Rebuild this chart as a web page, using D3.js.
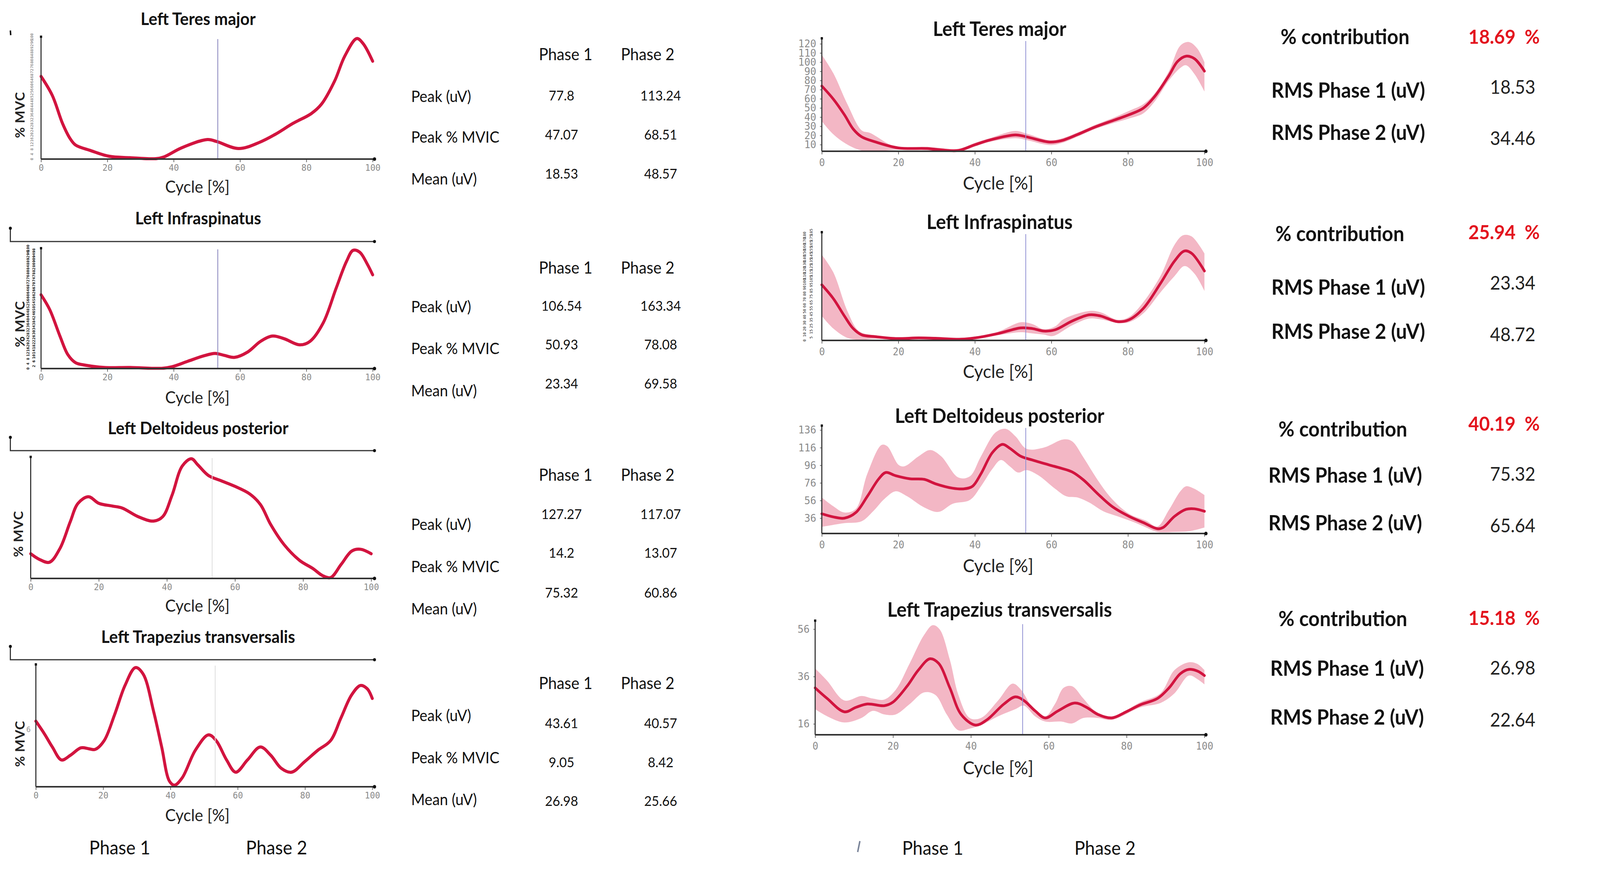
<!DOCTYPE html>
<html><head><meta charset="utf-8">
<script src="https://cdn.jsdelivr.net/npm/d3@7/dist/d3.min.js"></script>
<style>
html,body{margin:0;padding:0;background:#fff;overflow:hidden;}
svg{display:block;width:100vw;height:100vh;font-family:Lato,"Open Sans",sans-serif;}
</style></head><body>
<svg id="c" viewBox="0 0 4328 2226" preserveAspectRatio="none"></svg>
<script>
// ---------------- DATA ----------------
const muscles = ["Left Teres major","Left Infraspinatus","Left Deltoideus posterior","Left Trapezius transversalis"];
const phaseNames = ["Phase 1","Phase 2"];
const rowLabels = ["Peak (uV)","Peak % MVIC","Mean (uV)"];
const peakUV   = [["77.8","113.24"],["106.54","163.34"],["127.27","117.07"],["43.61","40.57"]];
const peakMVIC = [["47.07","68.51"],["50.93","78.08"],["14.2","13.07"],["9.05","8.42"]];
const meanUV   = [["18.53","48.57"],["23.34","69.58"],["75.32","60.86"],["26.98","25.66"]];
const contribution = ["18.69","25.94","40.19","15.18"];
const rmsPhase1 = ["18.53","23.34","75.32","26.98"];
const rmsPhase2 = ["34.46","48.72","65.64","22.64"];
const phaseBoundary = 53.3;
const xTicks = [0,20,40,60,80,100];
const r1YTicks = [10,20,30,40,50,60,70,80,90,100,110,120];
const r2YTicks = d3.range(0,190,5);
const r3YTicks = [36,56,76,96,116,136];
const r4YTicks = [16,36,56];
const l1YTicks = d3.range(0,101,4);
const l2YTicks = d3.range(0,101,2);

// left column: mean normalised % MVC curves  [cycle %, value]
const l1Mean = [[0,67.6],[3.4,52],[6.5,29],[8.8,16.6],[10.4,11.5],[15,6.9],[20.5,2.3],[26.8,1.1],[34.6,0.3],[37,1.7],[42.4,9.2],[50.2,16],[53,14.3],[59.6,8.6],[65.9,13.7],[70.5,20],[76,29.2],[81.5,37.2],[84.6,45],[88.5,63.6],[91.6,84.2],[95.2,98.5],[97.1,94.5],[100,80]];
const l2Mean = [[0,61.3],[2.6,49.1],[5.7,27],[8.1,11.5],[10.4,4.9],[13.6,2.7],[19.1,0.9],[26.9,0.9],[36.4,0.2],[39.5,1.5],[44.2,6],[48.9,10.4],[52.5,12.6],[55.2,11],[58.4,9.3],[62.3,13.7],[66.2,22.6],[69.8,27],[73.3,24.8],[78,19.7],[81.1,22.6],[85.1,38],[89,66.8],[92.1,88.9],[94.1,98.2],[96.1,96.7],[98.4,86.7],[100,77.9]];
const l3Mean = [[0,20.3],[2.4,15.9],[5.5,13.3],[8.6,24.7],[11.6,46.5],[13.9,61.8],[17,67.2],[20,61.8],[23.9,59.6],[26.9,57.9],[31.5,50.9],[36.1,47.2],[38.8,50.9],[41.5,68.3],[44.5,92.4],[47.2,98.5],[49.1,93.4],[52.2,84.7],[56,80.3],[59.8,76],[64.4,69.4],[67.5,60.7],[70.5,44.3],[74.4,27.9],[79,14.8],[82.8,8.3],[85.8,2.2],[88.1,0.7],[91.2,11.6],[94.3,22.5],[96.9,24],[100,20.3]];
const l4Mean = [[0,53.6],[2.6,43],[4.9,32.5],[7.6,21.9],[10.3,25.8],[13.4,31.8],[15.7,31.1],[17.6,30.5],[20.3,37.7],[23.4,58.9],[26.5,82.8],[29.6,97.4],[31.9,92.1],[35,61.6],[37.4,32.5],[39.7,4.6],[41.2,1.3],[43.5,7.3],[47.4,29.8],[51.3,42.4],[53.6,37.7],[56.7,21.9],[59.4,11.9],[62.9,21.9],[66.7,32.5],[69.8,25.8],[72.9,15.2],[76,11.9],[79.9,20.5],[83.8,29.8],[87.6,37.7],[90.7,56.3],[93.8,74.8],[96.5,82.8],[98.5,80.1],[100,72.2]];

// right column: mean and SD band (uV)
const r1Mean = [[0,73.9],[3,59.7],[5.9,42.6],[8.2,27],[10.4,18.5],[14.1,12.8],[20,6.4],[27.5,5.7],[31,4.3],[35.7,3.6],[40.1,10],[43.9,15],[50.6,20.6],[53.5,18.5],[59.5,12.8],[62.5,14.2],[67,21.3],[71.4,29.2],[76.6,37],[80.3,42.6],[84,49.7],[87,62.5],[90.7,85.2],[93,100.8],[95.2,106.5],[97.4,103.7],[100,90.2]];
const r1Upper = [[0,108],[3,88],[6.7,54],[10.4,25.6],[12.6,22.8],[17.8,10],[20,7.5],[27.5,7.5],[31,6.3],[35.7,5.4],[40.1,12],[43.9,17],[50.6,24.9],[53.5,22],[59.5,14.8],[62.5,16.5],[67,23.5],[71.4,31.5],[76.6,40],[80.3,46.8],[84,54],[87,66],[90.7,90],[93.7,118],[95.9,122],[98.1,115],[100,100]];
const r1Lower = [[0,35.5],[3,21.3],[6.7,10],[10.4,3.6],[14.1,3],[20,4.5],[27.5,4],[31,2.8],[35.7,2],[40.1,8],[43.9,13],[50.6,17],[53.5,15],[59.5,9.5],[62.5,11.5],[67,19],[71.4,27],[76.6,34],[80.3,38.5],[84,44],[87,57],[90.7,80],[93.7,93.7],[95.2,96.6],[97.4,87],[100,68]];
const r2Mean = [[0,95],[3,71.6],[5.9,41.7],[8.2,20.3],[10.4,9.6],[14.1,6.4],[19.3,3.2],[25.3,4.3],[29.7,3.6],[36.4,2.1],[40.1,4.3],[46.1,11.8],[52,21.4],[55,20.3],[58,16],[61,18.2],[65.4,33.1],[69.9,43.8],[72.9,41.7],[77.3,32],[80.3,35.3],[84,54.5],[88.5,97.3],[92.2,135.8],[94.8,152.9],[96.7,148.6],[100,118.7]];
const r2Upper = [[0,146.5],[3,116.5],[6.7,50],[9.7,16],[14.1,8.5],[19.3,5.5],[25.3,6.5],[29.7,6],[36.4,4],[40.1,6.5],[46.1,15],[52,31],[55,28],[58,19],[61,24],[63.2,36.4],[69.9,50.3],[72.9,48],[77.3,35.3],[80.3,40],[84,65.2],[88.5,110],[92.2,163.6],[94.4,179.6],[96.7,177.5],[100,148.6]];
const r2Lower = [[0,41.7],[3,20.3],[6.7,4.3],[10.4,1],[14.1,3],[19.3,1.5],[25.3,2.5],[29.7,2],[36.4,0.5],[40.1,2.5],[46.1,9],[52,14],[55,12],[58,10],[60.4,7.5],[65.4,25.7],[69.9,37.4],[72.9,36],[77.3,30],[80.3,31],[84,46],[88.5,82],[92.2,110],[94.8,127],[97.4,114],[100,84.5]];
const r3Mean = [[0,41],[3,37.4],[5.9,36],[8.9,42.4],[11.9,60.8],[14.9,80.7],[16.7,87.8],[19.3,84.2],[23,80.7],[26.8,80],[29.7,75],[34.2,70],[37.2,69.3],[39.4,72.2],[41.6,86.4],[44.6,110.5],[47.2,119.7],[49.1,115.4],[52,106.2],[55,102],[59.5,96.3],[62.5,92.7],[65.4,88.5],[68.4,79.3],[72.1,63.7],[75.8,49.5],[80.3,38.1],[84,31],[87.7,24],[89.2,25.4],[92.2,38.1],[95.2,46],[97.4,46.6],[100,43.8]];
const r3Upper = [[0,59.4],[3,49.5],[5.9,42.4],[8.9,46.6],[11.9,86.4],[15.6,119],[17.1,117.6],[20.1,96.3],[21.6,94.9],[25.3,106.2],[28.3,113.3],[31.2,106.2],[35.7,82.1],[38.7,83.5],[41.6,106.2],[45.4,133.2],[48,137.4],[50.6,128.9],[53.5,114.7],[58,116.1],[63.2,125.4],[65.4,123.3],[68.4,104.8],[72.1,79.3],[75.8,58],[80.3,41],[84.8,33],[87.7,26.5],[90.7,45.2],[93.7,66.5],[95.2,72.2],[97.4,69.3],[100,62.2]];
const r3Lower = [[0,26.1],[5.9,30.3],[10.4,32.5],[13.4,43.8],[16.4,58],[19.3,66.5],[22.3,60.8],[26.8,48.1],[30.5,43.1],[34.2,52.3],[38.7,56.6],[41.6,72.2],[44.6,92],[46.8,102],[49.1,94.9],[51.3,87.8],[53.5,90.6],[56.5,84.9],[61,69.3],[63.9,60.8],[66.9,59.4],[69.9,53.7],[73.6,43.8],[77.3,38.1],[81.8,31],[84.8,25.4],[87.7,20.4],[92.2,20.4],[95.9,21.1],[100,25.4]];
const r4Mean = [[0,31.2],[3.1,26.7],[7.5,21.1],[10.5,23],[13.4,24.4],[17.8,23.7],[20,25.2],[23.6,31.9],[26.5,38.7],[29.5,43.5],[31.7,41.6],[34.6,31.2],[37.5,20],[41.2,15.5],[44.1,17.7],[48.5,24.4],[51.4,27.4],[53.6,25.9],[56.5,21.5],[59.1,18.5],[62.4,21.5],[66.7,24.8],[69.7,23],[72.6,20],[76.2,18.5],[79.9,21.1],[83.6,24.1],[87.9,26.7],[90.9,31.2],[93.8,37.2],[96,39],[98.2,38.3],[100,36.4]];
const r4Upper = [[0,39.4],[3.1,34.2],[7.5,25.9],[11.9,27.8],[14.8,26.7],[17.8,26.3],[20.7,30.4],[24.3,41.6],[28,53.6],[30.2,57.7],[32,55.9],[34.6,43.1],[36.8,28.2],[39.7,18.5],[42.6,18.5],[47,25.9],[50.7,33],[52.9,30.4],[55.8,23],[59.1,19.2],[61.6,24.4],[63.8,31.2],[66,31.9],[68.9,26.7],[71.9,21.5],[76.2,19.2],[83.6,25.2],[88.7,28.9],[92.3,38.7],[96,42],[98.2,41.3],[100,38.7]];
const r4Lower = [[0,22.2],[3.1,19.2],[7.5,16.6],[11.9,18.5],[14.8,21.5],[17.8,20],[20.7,20],[24.3,24.4],[28,29.3],[30.9,28.2],[33.8,20],[36.8,13.3],[39.7,14],[42.6,15.5],[47,19.2],[51.4,22.2],[53.6,23.7],[56.5,19.2],[59.1,17],[63.1,17],[66,16.2],[68.9,18.5],[72.6,18.5],[76.2,17.7],[83.6,23],[88.7,24.8],[92.3,28.9],[96,36.4],[98.2,34.9],[100,32.7]];

// ---------------- DRAW ----------------
const svg = d3.select("#c");
const defs = svg.append("defs");
const RED = "#d2143f", BAND = "#f3b7c5", AX = "#333";

function makeLine(x, y) {
  return d3.line().x(d => x(d[0])).y(d => y(d[1])).curve(d3.curveCatmullRom.alpha(0.5));
}

function drawChart(c) {
  const x = d3.scaleLinear().domain([0, 100]).range([c.x0, c.x1]);
  const y = d3.scaleLinear().domain(c.yDomain).range([c.yBottom, c.yTop]);
  const g = svg.append("g");
  const line = makeLine(x, y);
  defs.append("clipPath").attr("id", "clip" + c.id).append("rect")
    .attr("x", c.x0 - 4).attr("y", c.yTop).attr("width", c.axisEnd - c.x0 + 8).attr("height", c.yBottom - c.yTop + 3);
  const pg = g.append("g").attr("clip-path", `url(#clip${c.id})`);
  if (c.upper) {
    const up = line(c.upper);
    const lo = line(c.lower.slice().reverse());
    pg.append("path").attr("d", up + "L" + lo.slice(1) + "Z").attr("fill", BAND).attr("stroke", "none");
  }
  // phase boundary
  g.append("line").attr("x1", x(phaseBoundary)).attr("x2", x(phaseBoundary))
    .attr("y1", c.vTop).attr("y2", c.yBottom).attr("stroke", c.vColor).attr("stroke-width", 2);
  pg.append("path").attr("d", line(c.mean)).attr("fill", "none").attr("stroke", RED)
    .attr("stroke-width", c.lw).attr("stroke-linecap", "round").attr("stroke-linejoin", "round");

  // x axis
  const xa = g.append("g").attr("transform", `translate(0,${c.yBottom})`)
    .call(d3.axisBottom(x).tickValues(xTicks).tickSize(8).tickSizeOuter(0).tickPadding(c.xPad));
  xa.select(".domain").remove();
  xa.selectAll(".tick line").attr("stroke", "#666").attr("stroke-width", 2);
  xa.selectAll(".tick text").attr("font-family", "'DejaVu Sans Mono', monospace").attr("font-size", c.tickFs).attr("fill", "#8a8a8a");
  g.append("line").attr("x1", c.x0).attr("x2", c.axisEnd).attr("y1", c.yBottom).attr("y2", c.yBottom)
    .attr("stroke", AX).attr("stroke-width", 4);
  g.append("circle").attr("cx", c.axisEnd).attr("cy", c.yBottom).attr("r", 4.5).attr("fill", "#111");

  // y axis
  const ya = g.append("g").attr("transform", `translate(${c.x0},0)`)
    .call(d3.axisLeft(y).tickValues(c.yTicks || []).tickSize(5).tickSizeOuter(0).tickPadding(10));
  ya.select(".domain").remove();
  ya.selectAll(".tick line").attr("stroke", "#777").attr("stroke-width", 2);
  ya.selectAll(".tick text").attr("font-family", "'DejaVu Sans Mono', monospace").attr("font-size", 27).attr("fill", "#8a8a8a");
  g.append("line").attr("x1", c.x0).attr("x2", c.x0).attr("y1", c.yTop).attr("y2", c.yBottom)
    .attr("stroke", AX).attr("stroke-width", 3);
  g.append("rect").attr("x", c.x0 - 3).attr("y", c.yTop - 3).attr("width", 6).attr("height", 6).attr("fill", "#111");

  // dense rotated y tick labels (illegible in the source)
  if (c.dense) {
    g.append("g").selectAll("text").data(c.dense.ticks).join("text")
      .attr("transform", (d, i) => `translate(${c.dense.cols[i % c.dense.cols.length]},${y(d)}) rotate(-90)`)
      .attr("text-anchor", "middle").attr("dominant-baseline", "central")
      .attr("font-family", "'DejaVu Sans Mono', monospace").attr("font-size", c.dense.fs)
      .attr("font-weight", c.dense.bold ? 700 : 400)
      .attr("fill", c.dense.color).text(d => d);
  }
  // top remnant axis (left column)
  if (c.topLine) {
    const t = c.topLine;
    g.append("path").attr("d", d3.line()([[t.x1, t.y - 34], [t.x1, t.y], [t.x2, t.y]]))
      .attr("fill", "none").attr("stroke", AX).attr("stroke-width", 3);
    g.append("circle").attr("cx", t.x1).attr("cy", t.y - 34).attr("r", 4).attr("fill", "#111");
    g.append("circle").attr("cx", t.x2).attr("cy", t.y).attr("r", 4).attr("fill", "#111");
  }
  // titles / labels
  g.append("text").attr("x", c.title[0]).attr("y", c.title[1]).attr("text-anchor", "middle")
    .attr("dominant-baseline", "central").attr("font-weight", 700).attr("font-size", c.titleFs)
    .attr("fill", "#111").text(c.name);
  g.append("text").attr("x", c.cycle[0]).attr("y", c.cycle[1]).attr("text-anchor", "middle")
    .attr("dominant-baseline", "central").attr("font-size", c.cycleFs).attr("fill", "#222").text("Cycle [%]");
  if (c.mvc) {
    g.append("text").attr("transform", `translate(${c.mvc[0]},${c.mvc[1]}) rotate(-90)`)
      .attr("text-anchor", "middle").attr("dominant-baseline", "central")
      .attr("font-size", 34).attr("font-weight", 700).attr("letter-spacing", 1).attr("fill", "#222").text("% MVC");
  }
  if (c.extraLabel) {
    g.append("text").attr("x", c.x0 - 14).attr("y", y(c.extraLabel.v)).attr("text-anchor", "end")
      .attr("dominant-baseline", "central").attr("font-family", "'DejaVu Sans Mono', monospace")
      .attr("font-size", 20).attr("fill", "#999").text(c.extraLabel.t);
  }
}

const VL = "#7f7bb8", VF = "#dcdcdc", VR = "#8e8ed2";
const charts = [
  {id:"L1", name:muscles[0], mean:l1Mean, x0:111, x1:1008, axisEnd:1013, yTop:94, yBottom:407, yDomain:[0,100], vTop:100, vColor:VL, lw:8,
   title:[536,47], cycle:[534,477], mvc:[53,294], titleFs:44, cycleFs:43, tickFs:23, xPad:6,
   dense:{ticks:l1YTicks, cols:[86], fs:10, color:"#666"}},
  {id:"L2", name:muscles[1], mean:l2Mean, x0:111, x1:1008, axisEnd:1013, yTop:635, yBottom:943, yDomain:[0,100], vTop:638, vColor:VL, lw:8,
   title:[536,557], cycle:[534,1016], mvc:[53,829], titleFs:44, cycleFs:43, tickFs:23, xPad:6,
   topLine:{x1:28, x2:1013, y:618}, dense:{ticks:l2YTicks, cols:[76,91], fs:10, color:"#111", bold:true}},
  {id:"L3", name:muscles[2], mean:l3Mean, x0:83, x1:1004, axisEnd:1013, yTop:1169, yBottom:1480, yDomain:[0,100], vTop:1172, vColor:VF, lw:8,
   title:[536,1094], cycle:[534,1549], mvc:[49,1366], titleFs:44, cycleFs:43, tickFs:23, xPad:6,
   topLine:{x1:28, x2:1013, y:1153}},
  {id:"L4", name:muscles[3], mean:l4Mean, x0:97, x1:1007, axisEnd:1013, yTop:1700, yBottom:2013, yDomain:[0,100], vTop:1703, vColor:VF, lw:8,
   title:[536,1628], cycle:[534,2085], mvc:[53,1903], titleFs:44, cycleFs:43, tickFs:23, xPad:6,
   topLine:{x1:28, x2:1013, y:1688}, extraLabel:{v:47, t:"6"}},
  {id:"R1", name:muscles[0], mean:r1Mean, upper:r1Upper, lower:r1Lower, x0:2223, x1:3258, axisEnd:3262, yTop:98, yBottom:387, yDomain:[2.75,126], yTicks:r1YTicks, vTop:105, vColor:VR, lw:7,
   title:[2704,72], cycle:[2700,467], titleFs:51, cycleFs:47, tickFs:26, xPad:12},
  {id:"R2", name:muscles[1], mean:r2Mean, upper:r2Upper, lower:r2Lower, x0:2223, x1:3258, axisEnd:3262, yTop:594, yBottom:871, yDomain:[0,185], vTop:599, vColor:VR, lw:7,
   title:[2704,566], cycle:[2700,949], titleFs:51, cycleFs:47, tickFs:26, xPad:12,
   dense:{ticks:r2YTicks, cols:[2176,2194], fs:10, color:"#222"}},
  {id:"R3", name:muscles[2], mean:r3Mean, upper:r3Upper, lower:r3Lower, x0:2223, x1:3258, axisEnd:3262, yTop:1089, yBottom:1365, yDomain:[18.6,141], yTicks:r3YTicks, vTop:1095, vColor:VR, lw:7,
   title:[2704,1062], cycle:[2700,1446], titleFs:51, cycleFs:47, tickFs:26, xPad:12},
  {id:"R4", name:muscles[3], mean:r4Mean, upper:r4Upper, lower:r4Lower, x0:2205, x1:3258, axisEnd:3262, yTop:1588, yBottom:1880, yDomain:[11.4,59.6], yTicks:r4YTicks, vTop:1597, vColor:VR, lw:7,
   title:[2704,1558], cycle:[2700,1963], titleFs:51, cycleFs:47, tickFs:26, xPad:12}
];
charts.forEach(drawChart);

// L1 small remnant mark
svg.append("path").attr("d", d3.line()([[28, 78], [29, 90]])).attr("stroke", "#111").attr("stroke-width", 4);

// ---------------- TABLES (left) ----------------
const headerY = [138, 684, 1214, 1747];
const rowY = [[246,350,457],[784,891,999],[1341,1449,1557],[1830,1938,2045]];
const valY = [[243,343,443],[781,880,980],[1314,1413,1515],[1849,1949,2048]];
const tbl = svg.append("g").attr("fill", "#111");
muscles.forEach((m, i) => {
  phaseNames.forEach((p, j) => {
    tbl.append("text").attr("x", [1530, 1752][j]).attr("y", headerY[i]).attr("text-anchor", "middle")
      .attr("dominant-baseline", "central").attr("font-size", 42).text(p);
  });
  const vals = [peakUV[i], peakMVIC[i], meanUV[i]];
  rowLabels.forEach((r, k) => {
    tbl.append("text").attr("x", 1112).attr("y", rowY[i][k]).attr("dominant-baseline", "central")
      .attr("font-size", 40).text(r);
    vals[k].forEach((v, j) => {
      tbl.append("text").attr("x", [1519, 1787][j]).attr("y", valY[i][k]).attr("text-anchor", "middle")
        .attr("dominant-baseline", "central").attr("font-size", 35).text(v);
    });
  });
});

// ---------------- INFO (right) ----------------
const infoY = [[92,92,229,222,337,353],[596,592,733,723,846,855],[1096,1082,1214,1212,1336,1344],[1581,1579,1708,1708,1833,1841]];
const contribX = [3464, 3450, 3458, 3458];
const rmsX = [3439, 3439, 3431, 3436];
const info = svg.append("g");
muscles.forEach((m, i) => {
  const Y = infoY[i];
  info.append("text").attr("x", contribX[i]).attr("y", Y[0]).attr("dominant-baseline", "central")
    .attr("font-size", 53).attr("font-weight", 700).attr("fill", "#111").text("% contribution");
  info.append("text").attr("x", 4165).attr("y", Y[1]).attr("text-anchor", "end").attr("dominant-baseline", "central")
    .attr("font-size", 50).attr("font-weight", 700).attr("fill", "#e3141e").style("white-space", "pre")
    .text(contribution[i] + "  %");
  info.append("text").attr("x", rmsX[i]).attr("y", Y[2]).attr("dominant-baseline", "central")
    .attr("font-size", 53).attr("font-weight", 700).attr("fill", "#111").text("RMS Phase 1 (uV)");
  info.append("text").attr("x", 4092).attr("y", Y[3]).attr("text-anchor", "middle").attr("dominant-baseline", "central")
    .attr("font-size", 48).attr("fill", "#222").text(rmsPhase1[i]);
  info.append("text").attr("x", rmsX[i]).attr("y", Y[4]).attr("dominant-baseline", "central")
    .attr("font-size", 53).attr("font-weight", 700).attr("fill", "#111").text("RMS Phase 2 (uV)");
  info.append("text").attr("x", 4092).attr("y", Y[5]).attr("text-anchor", "middle").attr("dominant-baseline", "central")
    .attr("font-size", 48).attr("fill", "#222").text(rmsPhase2[i]);
});

// ---------------- bottom phase labels ----------------
const bottom = svg.append("g").attr("font-size", 48).attr("fill", "#111");
[[324, 2168], [748, 2168], [2523, 2169], [2989, 2169]].forEach((p, i) => {
  bottom.append("text").attr("x", p[0]).attr("y", p[1]).attr("text-anchor", "middle")
    .attr("dominant-baseline", "central").text(phaseNames[i % 2]);
});
svg.append("path").attr("d", d3.line()([[2326, 2152], [2320, 2180]])).attr("stroke", "#7a8499").attr("stroke-width", 4);
</script>
</body></html>
